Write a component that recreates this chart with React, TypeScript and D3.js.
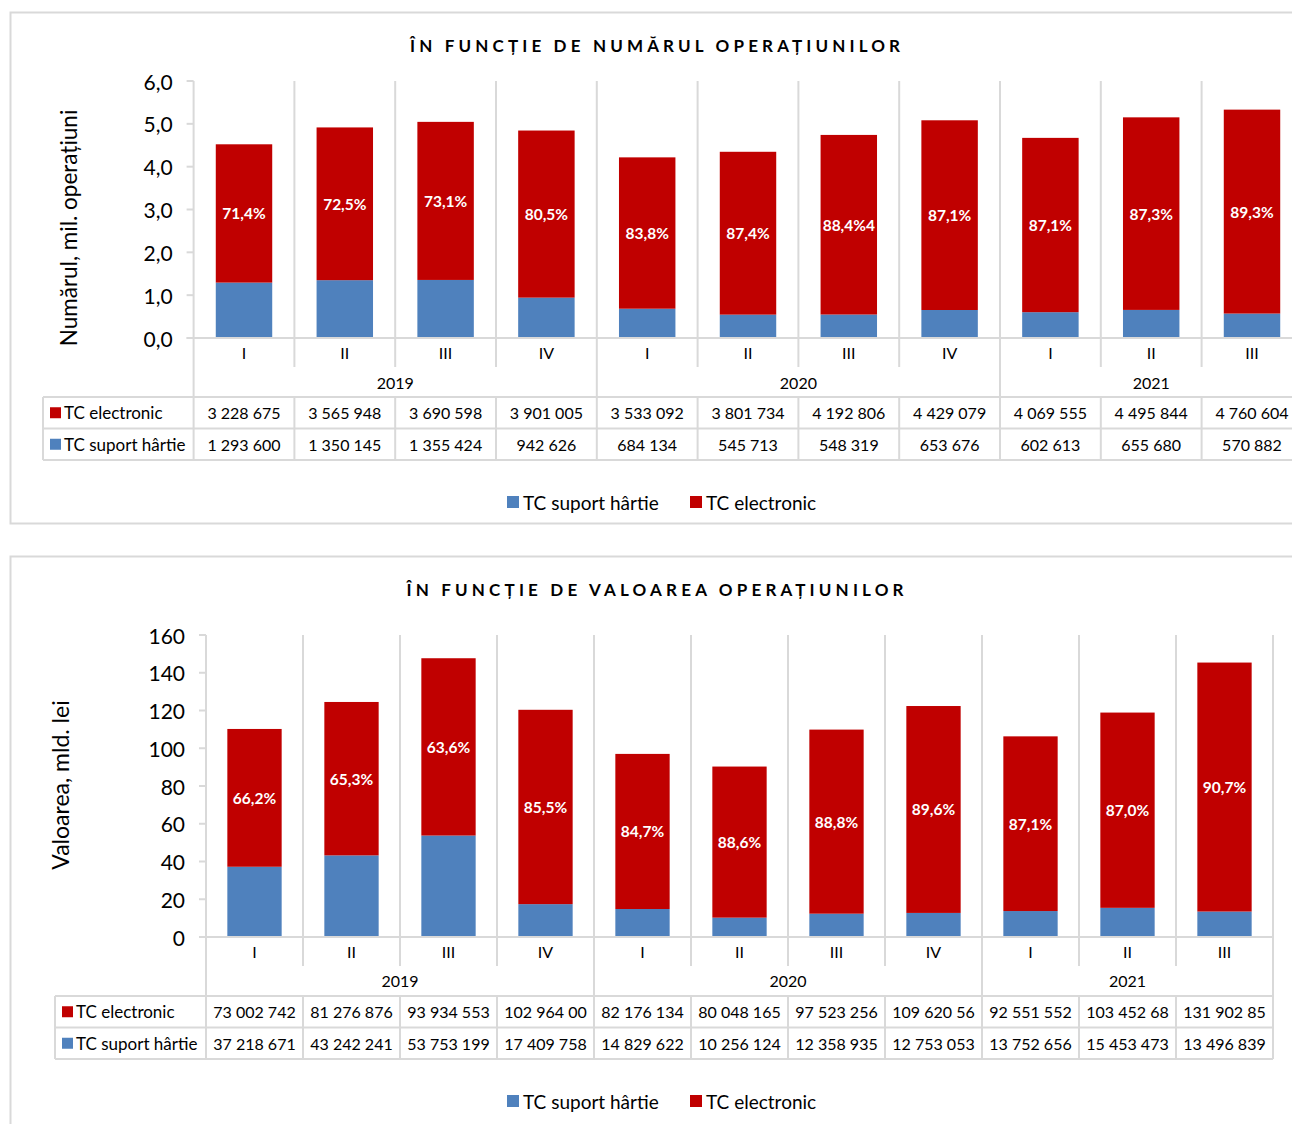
import React from "react";
import * as d3 from "d3";

const quarters = ["I", "II", "III", "IV", "I", "II", "III", "IV", "I", "II", "III"];
const years = ["2019", "2020", "2021"];
const yearSizes = [4, 4, 3];

const seriesNames = ["TC electronic", "TC suport hârtie"];

// Chart 1: number of operations
const countElectronic = [3228675, 3565948, 3690598, 3901005, 3533092, 3801734, 4192806, 4429079, 4069555, 4495844, 4760604];
const countPaper = [1293600, 1350145, 1355424, 942626, 684134, 545713, 548319, 653676, 602613, 655680, 570882];
const countPctLabels = ["71,4%", "72,5%", "73,1%", "80,5%", "83,8%", "87,4%", "88,4%4", "87,1%", "87,1%", "87,3%", "89,3%"];
const countTicks = [0, 1, 2, 3, 4, 5, 6];

// Chart 2: value of operations (thousand lei)
const valueElectronic = [73002742, 81276876, 93934553, 102964000, 82176134, 80048165, 97523256, 109620560, 92551552, 103452680, 131902850];
const valuePaper = [37218671, 43242241, 53753199, 17409758, 14829622, 10256124, 12358935, 12753053, 13752656, 15453473, 13496839];
const valuePctLabels = ["66,2%", "65,3%", "63,6%", "85,5%", "84,7%", "88,6%", "88,8%", "89,6%", "87,1%", "87,0%", "90,7%"];
const valueTicks = [0, 20, 40, 60, 80, 100, 120, 140, 160];

const RED = "#C00000";
const BLUE = "#4F81BD";
const GRID = "#d9d9d9";
const FONT = "Lato, 'Open Sans', sans-serif";

const locale = d3.formatLocale({ decimal: ",", thousands: " ", grouping: [3], currency: ["", ""] });
const fmtInt = locale.format(",d");
const fmt1 = locale.format(".1f");

type PanelProps = {
  boxTop: number;
  boxHeight: number;
  title: string;
  titleY: number;
  titleWidth: number;
  yTitle: string;
  yTitleX: number;
  yTitleY: number;
  yTitleSize: number;
  plotLeft: number;
  plotRight: number;
  plotTop: number;
  plotBottom: number;
  yMax: number;
  ticks: number[];
  tickFmt: (v: number) => string;
  divisor: number;
  electronic: number[];
  paper: number[];
  pct: string[];
  tableLeft: number;
  catY: number;
  yearY: number;
  tableTop: number;
  rowH: number;
  legendY: number;
  maxChars: number;
};

function Panel(p: PanelProps) {
  const idx = d3.range(quarters.length);
  const x = d3.scaleBand<number>().domain(idx).range([p.plotLeft, p.plotRight]).paddingInner(0).paddingOuter(0);
  const y = d3.scaleLinear().domain([0, p.yMax]).range([p.plotBottom, p.plotTop]);
  const step = x.step();
  const barW = step * 0.56;
  const rows = idx.map((i) => ({ paper: p.paper[i] / p.divisor, electronic: p.electronic[i] / p.divisor }));
  const stacked = d3.stack<any>().keys(["paper", "electronic"])(rows);
  const boundaries = d3.range(quarters.length + 1).map((i) => (i < quarters.length ? (x(i) as number) : (x(i - 1) as number) + step));
  const groupStarts: number[] = [];
  let acc = 0;
  yearSizes.forEach((s) => {
    groupStarts.push(acc);
    acc += s;
  });
  const groupBoundaryIdx = new Set([...groupStarts, quarters.length]);
  const tableBottom = p.tableTop + 2 * p.rowH;
  const cellText = (v: number) => {
    const s = fmtInt(v);
    return s.length > p.maxChars ? s.slice(0, p.maxChars) : s;
  };
  const tableRows = [
    { name: seriesNames[0], color: RED, vals: p.electronic },
    { name: seriesNames[1], color: BLUE, vals: p.paper },
  ];

  return (
    <g>
      <rect x={10.5} y={p.boxTop + 0.5} width={1400} height={p.boxHeight} fill="#fff" stroke={GRID} strokeWidth={2} />
      <text
        x={655}
        y={p.titleY}
        textAnchor="middle"
        dominantBaseline="central"
        fontFamily={FONT}
        fontWeight={700}
        fontSize={17}
        textLength={p.titleWidth}
        lengthAdjust="spacing"
        fill="#000"
      >
        {p.title}
      </text>
      {/* y axis title */}
      <text
        transform={`translate(${p.yTitleX},${p.yTitleY}) rotate(-90)`}
        textAnchor="middle"
        dominantBaseline="central"
        fontFamily={FONT}
        fontSize={p.yTitleSize}
        fill="#000"
      >
        {p.yTitle}
      </text>
      {/* gridlines */}
      {boundaries.slice(1).map((bx, i) => (
        <line key={"g" + i} x1={bx} x2={bx} y1={p.plotTop} y2={p.plotBottom} stroke={GRID} strokeWidth={2} />
      ))}
      {/* y axis */}
      <line x1={p.plotLeft} x2={p.plotLeft} y1={p.plotTop} y2={p.plotBottom} stroke={GRID} strokeWidth={2} />
      {p.ticks.map((t) => (
        <g key={"t" + t}>
          <line x1={p.plotLeft - 7} x2={p.plotLeft} y1={y(t)} y2={y(t)} stroke={GRID} strokeWidth={2} />
          <text x={p.plotLeft - 21} y={y(t)} textAnchor="end" dominantBaseline="central" fontFamily={FONT} fontSize={21} fill="#000">
            {p.tickFmt(t)}
          </text>
        </g>
      ))}
      {/* bars */}
      {stacked.map((layer) => (
        <g key={layer.key} fill={layer.key === "paper" ? BLUE : RED}>
          {layer.map((d, i) => (
            <rect key={i} x={(x(i) as number) + (step - barW) / 2} width={barW} y={y(d[1])} height={y(d[0]) - y(d[1])} />
          ))}
        </g>
      ))}
      {/* pct labels */}
      {stacked[1].map((d, i) => (
        <text
          key={"p" + i}
          x={(x(i) as number) + step / 2}
          y={(y(d[0]) + y(d[1])) / 2}
          textAnchor="middle"
          dominantBaseline="central"
          fontFamily={FONT}
          fontWeight={700}
          fontSize={15.5}
          fill="#fff"
        >
          {p.pct[i]}
        </text>
      ))}
      {/* x axis */}
      <line x1={p.plotLeft - 7} x2={p.plotRight} y1={p.plotBottom} y2={p.plotBottom} stroke={GRID} strokeWidth={2} />
      {boundaries.map((bx, i) => (
        <line
          key={"c" + i}
          x1={bx}
          x2={bx}
          y1={p.plotBottom}
          y2={groupBoundaryIdx.has(i) ? p.tableTop : p.plotBottom + 29}
          stroke={GRID}
          strokeWidth={2}
        />
      ))}
      {quarters.map((q, i) => (
        <text key={"q" + i} x={(x(i) as number) + step / 2} y={p.catY} textAnchor="middle" dominantBaseline="central" fontFamily={FONT} fontSize={16} fill="#000">
          {q}
        </text>
      ))}
      {years.map((yr, gi) => {
        const a = boundaries[groupStarts[gi]];
        const b = boundaries[groupStarts[gi] + yearSizes[gi]];
        return (
          <text key={yr} x={(a + b) / 2} y={p.yearY} textAnchor="middle" dominantBaseline="central" fontFamily={FONT} fontSize={16} fill="#000">
            {yr}
          </text>
        );
      })}
      {/* data table */}
      {[0, 1, 2].map((r) => (
        <line key={"h" + r} x1={p.tableLeft} x2={p.plotRight} y1={p.tableTop + r * p.rowH} y2={p.tableTop + r * p.rowH} stroke={GRID} strokeWidth={2} />
      ))}
      <line x1={p.tableLeft} x2={p.tableLeft} y1={p.tableTop} y2={tableBottom} stroke={GRID} strokeWidth={2} />
      {boundaries.map((bx, i) => (
        <line key={"tv" + i} x1={bx} x2={bx} y1={p.tableTop} y2={tableBottom} stroke={GRID} strokeWidth={2} />
      ))}
      {tableRows.map((row, r) => {
        const cy = p.tableTop + p.rowH * (r + 0.5);
        return (
          <g key={"r" + r}>
            <rect x={p.tableLeft + 7} y={cy - 5.5} width={11} height={11} fill={row.color} />
            <text x={p.tableLeft + 21} y={cy} dominantBaseline="central" fontFamily={FONT} fontSize={17} fill="#000">
              {row.name}
            </text>
            {row.vals.map((v, i) => (
              <text key={i} x={(x(i) as number) + step / 2} y={cy} textAnchor="middle" dominantBaseline="central" fontFamily={FONT} fontSize={16} fill="#000">
                {cellText(v)}
              </text>
            ))}
          </g>
        );
      })}
      {/* legend */}
      <g>
        <rect x={507} y={p.legendY - 6} width={12} height={12} fill={BLUE} />
        <text x={523} y={p.legendY} dominantBaseline="central" fontFamily={FONT} fontSize={19} fill="#000">
          {seriesNames[1]}
        </text>
        <rect x={690} y={p.legendY - 6} width={12} height={12} fill={RED} />
        <text x={706} y={p.legendY} dominantBaseline="central" fontFamily={FONT} fontSize={19} fill="#000">
          {seriesNames[0]}
        </text>
      </g>
    </g>
  );
}

export default function App() {
  return (
    <div style={{ position: "absolute", left: 0, top: 0, width: 1292, height: 1124, background: "#fff" }}>
      <svg width={1292} height={1124} style={{ display: "block" }}>
        <rect x={0} y={0} width={1292} height={1124} fill="#fff" />
        <Panel
          boxTop={12}
          boxHeight={511}
          title="ÎN FUNCȚIE DE NUMĂRUL OPERAȚIUNILOR"
          titleY={45}
          titleWidth={490}
          yTitle="Numărul, mil. operațiuni"
          yTitleX={68}
          yTitleY={228}
          yTitleSize={22.5}
          plotLeft={193.6}
          plotRight={1302.4}
          plotTop={81}
          plotBottom={338}
          yMax={6}
          ticks={countTicks}
          tickFmt={(v) => fmt1(v)}
          divisor={1e6}
          electronic={countElectronic}
          paper={countPaper}
          pct={countPctLabels}
          tableLeft={43}
          catY={352}
          yearY={382}
          tableTop={397}
          rowH={31.5}
          legendY={502}
          maxChars={10}
        />
        <Panel
          boxTop={556}
          boxHeight={700}
          title="ÎN FUNCȚIE DE VALOAREA OPERAȚIUNILOR"
          titleY={589}
          titleWidth={497}
          yTitle="Valoarea, mld. lei"
          yTitleX={60}
          yTitleY={785}
          yTitleSize={23}
          plotLeft={206}
          plotRight={1273}
          plotTop={635}
          plotBottom={937}
          yMax={160}
          ticks={valueTicks}
          tickFmt={(v) => fmtInt(v)}
          divisor={1e6}
          electronic={valueElectronic}
          paper={valuePaper}
          pct={valuePctLabels}
          tableLeft={55}
          catY={951}
          yearY={980}
          tableTop={996}
          rowH={31.5}
          legendY={1101}
          maxChars={10}
        />
      </svg>
    </div>
  );
}
